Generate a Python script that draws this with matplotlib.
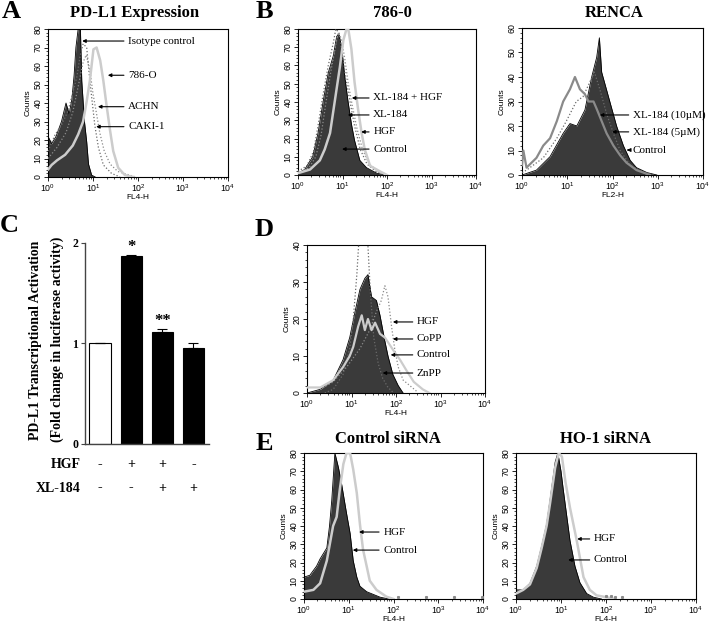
import numpy as np
import matplotlib
matplotlib.use('Agg')
import matplotlib.pyplot as plt
import matplotlib.transforms as mtransforms
from matplotlib.ticker import MultipleLocator, LogLocator, NullFormatter, FixedLocator

# ---------------- data (x values are log10 of fluorescence) ----------------
# Panel A - PD-L1 expression
a_iso_x = [0, 0.08, 0.18, 0.3, 0.4, 0.47, 0.53, 0.58, 0.62, 0.67, 0.72, 0.75, 0.81, 0.86, 0.9, 0.97, 1.05]
a_iso_y = [22, 18, 22, 30, 40, 34, 42, 55, 70, 80, 80, 52, 30, 19, 7, 1, 0]
a_786_x = [0, 0.08, 0.2, 0.38, 0.55, 0.67, 0.78, 0.86, 0.93, 1.01, 1.08, 1.16, 1.23, 1.30, 1.38, 1.45, 1.56, 1.71, 1.9]
a_786_y = [4, 6.5, 9, 12, 17, 23, 30, 41, 52, 69, 70, 63, 52, 39, 25, 14, 5, 1, 0]
a_achn_x = [0, 0.16, 0.3, 0.45, 0.64, 0.71, 0.78, 0.86, 0.93, 1.04, 1.12, 1.23, 1.41, 1.6]
a_achn_y = [14, 23, 28, 36, 54, 65, 72, 70, 52, 28, 16, 6.5, 2, 0]
a_caki_x = [0, 0.2, 0.4, 0.55, 0.68, 0.78, 0.85, 0.93, 1.0, 1.08, 1.15, 1.25, 1.38, 1.55, 1.75, 1.95]
a_caki_y = [10, 16, 24, 35, 50, 62, 66, 58, 45, 34, 24, 14, 7, 3, 1.5, 0]
a_labels = ["Isotype control", "786-O", "ACHN", "CAKI-1"]
a_tip_x = [0.76, 1.33, 1.11, 1.07]
a_tip_y = [73.5, 55, 38, 27.2]

# Panel B - 786-0
b1_ctrl_x = [0, 0.15, 0.33, 0.45, 0.57, 0.68, 0.79, 0.87, 0.92, 0.98, 1.05, 1.12, 1.2, 1.27, 1.39, 1.54, 1.77, 1.95]
b1_ctrl_y = [1, 3, 10, 23, 41, 56, 65, 76, 77, 70, 54, 41, 28, 19, 8, 4, 1, 0]
b1_hgf_x = [0, 0.27, 0.49, 0.6, 0.72, 0.83, 0.94, 1.02, 1.09, 1.13, 1.2, 1.27, 1.35, 1.43, 1.5, 1.62, 1.84, 2.0]
b1_hgf_y = [1, 3, 8, 14, 23, 41, 59, 74, 80, 80, 69, 51, 36, 23, 14, 5, 2, 0]
b1_xlh_x = [0, 0.2, 0.35, 0.45, 0.57, 0.68, 0.79, 0.85, 0.92, 1.0, 1.08, 1.17, 1.27, 1.4, 1.55, 1.75, 1.95]
b1_xlh_y = [2, 5, 13, 27, 45, 60, 72, 80, 78, 66, 52, 40, 27, 14, 6, 2, 0]
b1_xl_x = [0, 0.25, 0.4, 0.52, 0.63, 0.74, 0.84, 0.9, 0.97, 1.05, 1.13, 1.22, 1.32, 1.45, 1.6, 1.8, 2.0]
b1_xl_y = [1, 4, 10, 22, 40, 57, 70, 78, 75, 64, 50, 38, 26, 14, 6, 2, 0]
b1_labels = ["XL-184 + HGF", "XL-184", "HGF", "Control"]
b1_tip_x = [1.21, 1.12, 1.42, 0.99]
b1_tip_y = [42.2, 32.9, 23.6, 14.2]

# Panel B - RENCA
b2_ctrl_x = [0, 0.32, 0.62, 0.91, 1.06, 1.21, 1.39, 1.54, 1.65, 1.71, 1.76, 1.94, 2.09, 2.24, 2.39, 2.53, 2.76, 2.98]
b2_ctrl_y = [0, 2, 7.5, 17, 21, 20, 26.5, 40, 48, 56, 42, 30, 20, 12, 6, 3, 1, 0]
b2_10_x = [0, 0.03, 0.1, 0.32, 0.47, 0.62, 0.77, 0.91, 1.06, 1.17, 1.28, 1.39, 1.47, 1.58, 1.65, 1.76, 1.87, 2.02, 2.17, 2.31, 2.53, 2.83]
b2_10_y = [4, 10, 3, 7, 12, 15, 22, 30, 35, 40, 35, 33, 30, 30, 27, 22, 17, 12, 8, 5, 2, 0]
b2_5_x = [0, 0.1, 0.47, 0.77, 0.98, 1.2, 1.35, 1.5, 1.6, 1.72, 1.87, 2.02, 2.17, 2.39, 2.68, 2.9]
b2_5_y = [1, 2, 7, 15, 22, 30, 32, 38, 42, 35, 25, 17, 10, 4, 1, 0]
b2_labels = ["XL-184 (10µM)", "XL-184 (5µM)", "Control"]
b2_tip_x = [1.72, 1.99, 2.32]
b2_tip_y = [24.5, 17.6, 10.2]

# Panel C - luciferase
c_vals = [1.0, 1.87, 1.11, 0.955]
c_err = [0.0, 0.01, 0.03, 0.05]
c_hgf = ['-', '+', '+', '-']
c_xl = ['-', '-', '+', '+']
c_sig = ['', '*', '**', '']

# Panel D
d_ctrl_x = [0, 0.3, 0.59, 0.81, 0.96, 1.08, 1.19, 1.3, 1.37, 1.45, 1.56, 1.64, 1.75, 1.82, 1.93, 2.05, 2.16]
d_ctrl_y = [0, 1, 3.5, 9, 15, 22, 28, 31, 32, 26, 25, 21, 14, 10, 5, 2, 0]
d_copp_x = [0, 0.3, 0.59, 0.81, 0.96, 1.04, 1.15, 1.23, 1.3, 1.37, 1.45, 1.53, 1.64, 1.75, 1.86, 1.97, 2.09, 2.24, 2.4, 2.6, 2.75]
d_copp_y = [1.5, 1.5, 3.5, 7, 10, 12.5, 18, 21, 17, 20, 17, 19, 16, 15, 13, 11, 9, 6, 3, 1, 0]
d_hgf_x = [0.29, 0.59, 0.89, 1.19, 1.41, 1.56, 1.67, 1.75, 1.82, 1.9, 1.97, 2.05, 2.16, 2.31, 2.46]
d_hgf_y = [1, 3, 7, 12, 17, 22, 25, 29, 26, 18, 12, 7, 3.5, 2, 0.5]
d_znpp_x = [0.4, 0.59, 0.81, 0.96, 1.04, 1.12, 1.17, 1.22, 1.3, 1.36, 1.42, 1.5, 1.6, 1.7, 1.82, 1.95]
d_znpp_y = [0, 1, 5, 12, 20, 32, 42, 48, 48, 42, 28, 15, 8, 4, 1.5, 0]
d_labels = ["HGF", "CoPP", "Control", "ZnPP"]
d_tip_x = [1.93, 1.93, 1.88, 1.70]
d_tip_y = [19.2, 14.6, 10.3, 5.4]

# Panel E - Control siRNA
e1_ctrl_x = [0, 0.13, 0.28, 0.36, 0.51, 0.57, 0.62, 0.69, 0.77, 0.84, 0.95, 1.03, 1.1, 1.18, 1.25, 1.4, 1.7, 1.9]
e1_ctrl_y = [12, 13, 18, 22, 28, 40, 54, 80, 72, 63, 47, 36, 21, 12, 7, 4, 1, 0]
e1_hgf_x = [0, 0.21, 0.36, 0.51, 0.65, 0.73, 0.8, 0.88, 0.95, 1.03, 1.1, 1.18, 1.25, 1.32, 1.4, 1.47, 1.62, 1.84, 2.0]
e1_hgf_y = [4, 5, 8.6, 21, 40, 45, 60, 74, 80, 80, 71, 58, 41, 27, 18, 10, 5, 1.3, 0]
e1_dots_x = [2.1, 2.73, 3.35, 3.97]
e1_dots_y = [1, 1, 1, 1]
# Panel E - HO-1 siRNA
e2_ctrl_x = [0, 0.16, 0.31, 0.46, 0.57, 0.68, 0.76, 0.87, 0.93, 1.0, 1.05, 1.13, 1.2, 1.31, 1.42, 1.57, 1.72, 1.9]
e2_ctrl_y = [5, 5, 8.6, 18, 29, 41, 55, 75, 80, 70, 60, 45, 32, 18, 9, 3, 1, 0]
e2_hgf_x = [0, 0.16, 0.31, 0.46, 0.57, 0.68, 0.76, 0.87, 0.95, 1.02, 1.1, 1.2, 1.35, 1.5, 1.64, 1.79, 2.0, 2.2]
e2_hgf_y = [3, 5, 8, 17, 28, 40, 53, 72, 80, 78, 64, 50, 32, 12, 5, 2, 1, 0]
e2_dots_x = [2.0, 2.1, 2.2, 2.35]
e2_dots_y = [1.5, 1.5, 1, 1]
e_labels = ["HGF", "Control"]
e1_tip_x = [1.23, 1.09]
e1_tip_y = [36.7, 26.8]
e2_tip_x = [1.36, 1.16]
e2_tip_y = [32.9, 21.4]

# ---------------- drawing ----------------
W, H = 713, 624
plt.rcParams['font.family'] = ['Liberation Sans', 'DejaVu Sans']
SERIF = ['Liberation Serif', 'DejaVu Serif']
DARK = '#3a3a3a'
LIGHT = '#cccccc'
MID = '#8a8a8a'
DOT = '#6a6a6a'

fig = plt.figure(figsize=(W / 100, H / 100), dpi=100)


def add_ax(l, t, r, b):
    return fig.add_axes([l / W, 1 - b / H, (r - l) / W, (b - t) / H])


def flow_axes(ax, ymax, xlabel):
    ax.set_xscale('log')
    ax.set_xlim(1, 1e4)
    ax.set_ylim(0, ymax)
    ax.yaxis.set_major_locator(MultipleLocator(10))
    ax.yaxis.set_minor_locator(MultipleLocator(2))
    ax.xaxis.set_major_locator(LogLocator(base=10, numticks=10))
    ax.xaxis.set_minor_locator(LogLocator(base=10, subs=np.arange(2, 10), numticks=10))
    ax.xaxis.set_minor_formatter(NullFormatter())
    ax.tick_params(axis='both', which='major', direction='out', length=3, width=0.6,
                   labelsize=6.3, pad=1)
    ax.tick_params(axis='both', which='minor', direction='out', length=1.6, width=0.5)
    ax.tick_params(axis='y', labelrotation=90)
    for lab in ax.get_yticklabels():
        lab.set_va('center')
    ax.set_ylabel('Counts', fontsize=6, labelpad=1)
    ax.set_xlabel(xlabel, fontsize=6, labelpad=0)
    for s in ax.spines.values():
        s.set_linewidth(0.8)


def dark_hist(ax, lx, y):
    x = 10 ** np.array(lx)
    ax.fill_between(x, y, 0, color=DARK, lw=0, zorder=2)
    ax.plot(x, y, color='k', lw=0.6, zorder=3)


def line_hist(ax, lx, y, color, lw, ls='-'):
    ax.plot(10 ** np.array(lx), y, color=color, lw=lw, ls=ls, zorder=4)


def labels(ax, names, tips_x, tips_y, text_x, fs=8):
    for n, tx, ty in zip(names, tips_x, tips_y):
        ax.annotate(n, xy=(10 ** tx, ty), xytext=(10 ** text_x, ty),
                    ha='left', va='center', fontsize=fs, family=SERIF,
                    arrowprops=dict(arrowstyle='-|>', color='k', lw=0.8,
                                    mutation_scale=5, shrinkA=1, shrinkB=0),
                    annotation_clip=False, zorder=6)


# Panel A
axA = add_ax(48, 29, 228, 177)
flow_axes(axA, 80, 'FL4-H')
dark_hist(axA, a_iso_x, a_iso_y)
line_hist(axA, a_achn_x, a_achn_y, DOT, 0.9, ':')
line_hist(axA, a_caki_x, a_caki_y, MID, 0.9, ':')
line_hist(axA, a_786_x, a_786_y, LIGHT, 1.8)
labels(axA, a_labels, a_tip_x, a_tip_y, 1.78)

# Panel B 786-0
axB1 = add_ax(298, 29, 476, 175)
flow_axes(axB1, 80, 'FL4-H')
dark_hist(axB1, b1_ctrl_x, b1_ctrl_y)
line_hist(axB1, b1_xlh_x, b1_xlh_y, DOT, 0.9, ':')
line_hist(axB1, b1_xl_x, b1_xl_y, MID, 0.9, ':')
line_hist(axB1, b1_hgf_x, b1_hgf_y, LIGHT, 1.8)
labels(axB1, b1_labels, b1_tip_x, b1_tip_y, 1.69)

# Panel B RENCA
axB2 = add_ax(522, 28, 703, 175)
flow_axes(axB2, 60, 'FL2-H')
dark_hist(axB2, b2_ctrl_x, b2_ctrl_y)
line_hist(axB2, b2_5_x, b2_5_y, DOT, 0.9, ':')
line_hist(axB2, b2_10_x, b2_10_y, MID, 1.6)
labels(axB2, b2_labels, b2_tip_x, b2_tip_y, 2.45)

# Panel C
axC = add_ax(85, 243, 209, 444)
pos = np.arange(len(c_vals))
faces = ['white' if (h == '-' and x == '-') else 'black' for h, x in zip(c_hgf, c_xl)]
axC.bar(pos, c_vals, width=0.68, color=faces, edgecolor='black', linewidth=0.8, zorder=2)
axC.errorbar(pos, c_vals, yerr=[np.zeros(len(c_err)), c_err], fmt='none', ecolor='black',
             elinewidth=0.8, capsize=3.5, capthick=0.8, zorder=3)
for p, v, e, s in zip(pos, c_vals, c_err, c_sig):
    if s:
        axC.text(p, v + e + 0.0, s, ha='center', va='bottom', fontsize=12,
                 family=SERIF, fontweight='bold')
axC.set_xlim(-0.48, 3.5)
axC.set_ylim(0, 2)
axC.spines['top'].set_visible(False)
axC.spines['right'].set_visible(False)
for s in ['left', 'bottom']:
    axC.spines[s].set_color('#444444')
    axC.spines[s].set_linewidth(1.0)
axC.set_xticks([])
axC.yaxis.set_major_locator(FixedLocator([0, 1, 2]))
axC.tick_params(axis='y', direction='out', length=3, width=0.8, color='#444444', pad=2)
for lab in axC.get_yticklabels():
    lab.set_fontfamily(SERIF)
    lab.set_fontweight('bold')
    lab.set_fontsize(8.5)
trC = mtransforms.blended_transform_factory(axC.transData, axC.transAxes)
for p, h, x in zip(pos, c_hgf, c_xl):
    axC.text(p, -0.104, h, transform=trC, ha='center', va='center', fontsize=10,
             family=SERIF, fontweight='bold')
    axC.text(p, -0.219, x, transform=trC, ha='center', va='center', fontsize=10,
             family=SERIF, fontweight='bold')
axC.text(-0.62, -0.104, 'HGF', transform=trC, ha='right', va='center', fontsize=10,
         family=SERIF, fontweight='bold')
axC.text(-0.62, -0.219, 'XL-184', transform=trC, ha='right', va='center', fontsize=10,
         family=SERIF, fontweight='bold')
fig.text(36 / W, 1 - 340 / H, 'PD-L1 Transcriptional Activation', rotation=90,
         ha='center', va='center', fontsize=10, family=SERIF, fontweight='bold')
fig.text(57 / W, 1 - 339 / H, '(Fold change in luciferase activity)', rotation=90,
         ha='center', va='center', fontsize=10, family=SERIF, fontweight='bold')

# Panel D
axD = add_ax(307, 245, 485, 393)
flow_axes(axD, 40, 'FL4-H')
dark_hist(axD, d_ctrl_x, d_ctrl_y)
line_hist(axD, d_znpp_x, d_znpp_y, DOT, 0.9, ':')
line_hist(axD, d_hgf_x, d_hgf_y, MID, 0.9, ':')
line_hist(axD, d_copp_x, d_copp_y, LIGHT, 1.6)
labels(axD, d_labels, d_tip_x, d_tip_y, 2.47)

# Panel E
axE1 = add_ax(304, 453, 483, 599)
flow_axes(axE1, 80, 'FL4-H')
dark_hist(axE1, e1_ctrl_x, e1_ctrl_y)
line_hist(axE1, e1_hgf_x, e1_hgf_y, LIGHT, 1.8)
axE1.plot(10 ** np.array(e1_dots_x), e1_dots_y, 's', color=MID, ms=1.2, zorder=4)
labels(axE1, e_labels, e1_tip_x, e1_tip_y, 1.77)

axE2 = add_ax(516, 453, 696, 599)
flow_axes(axE2, 80, 'FL4-H')
dark_hist(axE2, e2_ctrl_x, e2_ctrl_y)
line_hist(axE2, e2_hgf_x, e2_hgf_y, LIGHT, 1.8)
axE2.plot(10 ** np.array(e2_dots_x), e2_dots_y, 's', color=MID, ms=1.2, zorder=4)
labels(axE2, e_labels, e2_tip_x, e2_tip_y, 1.73)

# Titles and panel letters
def ftext(x, y, s, size, **kw):
    fig.text(x / W, 1 - y / H, s, ha='center', va='center', fontsize=size,
             family=SERIF, fontweight='bold', **kw)

ftext(135, 13, 'PD-L1 Expression', 12)
ftext(392, 13, '786-0', 12)
ftext(614, 13, 'RENCA', 12)
ftext(388, 439, 'Control siRNA', 12)
ftext(605, 439, 'HO-1 siRNA', 12)
ftext(11, 12, 'A', 19)
ftext(264, 12, 'B', 19)
ftext(9, 226, 'C', 19)
ftext(264, 230, 'D', 19)
ftext(264, 444, 'E', 19)

fig.savefig('out.png', dpi=100, facecolor='white')
